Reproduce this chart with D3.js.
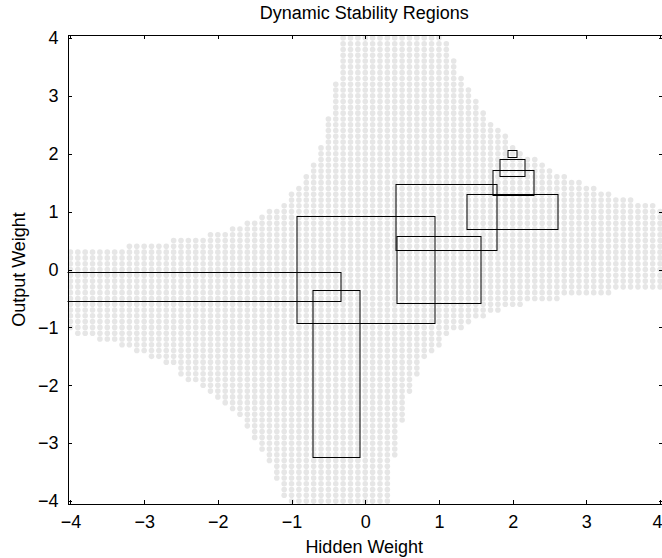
<!DOCTYPE html>
<html>
<head>
<meta charset="utf-8">
<script src="https://cdn.jsdelivr.net/npm/d3@7"></script>
<style>
  body { margin: 0; background: #fff; }
  svg { display: block; }
  text { font-family: "Liberation Sans", Arial, Helvetica, sans-serif; fill: #000; }
</style>
</head>
<body>
<div id="chart"></div>
<script>
// tick labels
const xTicks = [-4, -3, -2, -1, 0, 1, 2, 3, 4];
const yTicks = [-4, -3, -2, -1, 0, 1, 2, 3, 4];

// stable region: one column every 0.1 in hidden weight, from -4 to 4
// top / bottom output weight of the grey dots in each column
const regionTop = [
  0.3, 0.3, 0.3, 0.3, 0.3, 0.3, 0.3, 0.3,
  0.4, 0.4, 0.4, 0.4, 0.4, 0.4,
  0.5, 0.5, 0.5, 0.5, 0.5,
  0.6, 0.6, 0.6,
  0.7, 0.7, 0.8, 0.8, 0.9, 1.0, 1.0, 1.1,
  1.3, 1.4, 1.6, 1.8, 2.1, 2.6, 3.2,
  4, 4, 4, 4, 4, 4, 4, 4, 4, 4, 4, 4, 4, 4,
  3.9, 3.6, 3.3, 3.1, 2.9, 2.7, 2.5, 2.4, 2.3, 2.1, 2.0,
  1.9, 1.9, 1.8, 1.7, 1.6, 1.6, 1.5, 1.5, 1.4, 1.4, 1.3, 1.3,
  1.2, 1.2, 1.2, 1.1, 1.1, 1.1, 1.0
];
const regionBottom = [
  -1.0, -1.1, -1.1, -1.1, -1.2, -1.2, -1.2, -1.3, -1.3, -1.4, -1.4,
  -1.5, -1.5, -1.6, -1.6, -1.8, -1.9, -1.9, -2.0, -2.1, -2.2, -2.3,
  -2.4, -2.5, -2.7, -2.9, -3.1, -3.3, -3.6, -3.9,
  -4, -4, -4, -4, -4, -4, -4, -4, -4, -4, -4, -4, -4, -4,
  -3.2, -2.6, -2.1, -1.8, -1.5, -1.4, -1.3, -1.1,
  -1.0, -1.0, -0.9, -0.8, -0.8, -0.7, -0.7, -0.6, -0.6, -0.6,
  -0.5, -0.5, -0.5, -0.5, -0.5,
  -0.4, -0.4, -0.4, -0.4, -0.4, -0.4, -0.4,
  -0.3, -0.3, -0.3, -0.3, -0.3, -0.3, -0.3
];

// boxes (hidden weight range x output weight range)
const boxXLo = [-4.5, -0.93, -0.72, 0.41, 0.43, 1.38, 1.72, 1.82, 1.93];
const boxXHi = [-0.33, 0.94, -0.08, 1.78, 1.57, 2.61, 2.28, 2.16, 2.05];
const boxYLo = [-0.55, -0.92, -3.24, 0.34, -0.57, 0.70, 1.29, 1.61, 1.94];
const boxYHi = [-0.05, 0.93, -0.36, 1.47, 0.57, 1.30, 1.71, 1.90, 2.06];

const W = 662, H = 558;
const margin = { top: 35, right: -1, bottom: 54, left: 67.5 };
const width = W - margin.left - margin.right;
const height = H - margin.top - margin.bottom;

const svg = d3.select("#chart").append("svg")
  .attr("width", W)
  .attr("height", H);

const g = svg.append("g")
  .attr("transform", "translate(" + margin.left + "," + margin.top + ")");

const x = d3.scaleLinear().domain([-4.04, 4.04]).range([0, width]);
const y = d3.scaleLinear().domain([-4.05, 4.05]).range([height, 0]);

g.append("clipPath").attr("id", "plotclip")
  .append("rect").attr("width", width).attr("height", height);

// grid points inside the region
const dots = [];
regionTop.forEach((top, k) => {
  const hx = -4 + k / 10;
  const lo = Math.round(regionBottom[k] * 10);
  const hi = Math.round(top * 10);
  for (let j = lo; j <= hi; j++) dots.push({ hx: hx, ow: j / 10 });
});

g.append("g")
  .attr("clip-path", "url(#plotclip)")
  .selectAll("circle")
  .data(dots)
  .enter()
  .append("circle")
  .attr("cx", d => x(d.hx))
  .attr("cy", d => y(d.ow))
  .attr("r", 2.8)
  .attr("fill", "#e6e6e6");

const boxes = boxXLo.map((v, i) => ({ x0: v, x1: boxXHi[i], y0: boxYLo[i], y1: boxYHi[i] }));

g.append("g")
  .attr("clip-path", "url(#plotclip)")
  .selectAll("rect")
  .data(boxes)
  .enter()
  .append("rect")
  .attr("x", d => Math.round(x(d.x0)) + 0.5)
  .attr("y", d => Math.round(y(d.y1)) + 0.5)
  .attr("width", d => Math.round(x(d.x1)) - Math.round(x(d.x0)))
  .attr("height", d => Math.round(y(d.y0)) - Math.round(y(d.y1)))
  .attr("fill", "none")
  .attr("stroke", "#000")
  .attr("stroke-width", 1);

// axes, ticks pointing inward on all four sides
const fmt = d3.format("d");
const bottomAxis = g.append("g")
  .attr("transform", "translate(0," + height + ")")
  .call(d3.axisBottom(x).tickValues(xTicks).tickFormat(fmt).tickSizeInner(-4).tickSizeOuter(0).tickPadding(11));
const topAxis = g.append("g")
  .call(d3.axisTop(x).tickValues(xTicks).tickFormat("").tickSizeInner(-4).tickSizeOuter(0));
const leftAxis = g.append("g")
  .call(d3.axisLeft(y).tickValues(yTicks).tickFormat(fmt).tickSizeInner(-4).tickSizeOuter(0).tickPadding(9));
const rightAxis = g.append("g")
  .attr("transform", "translate(" + width + ",0)")
  .call(d3.axisRight(y).tickValues(yTicks).tickFormat("").tickSizeInner(-4).tickSizeOuter(0));

[bottomAxis, topAxis, leftAxis, rightAxis].forEach(a => {
  a.selectAll("path").attr("stroke", "#000").attr("shape-rendering", "crispEdges");
  a.selectAll("line").attr("stroke", "#000").attr("shape-rendering", "crispEdges");
  a.selectAll("text").style("font-size", "18px").attr("fill", "#000");
});
// last x label sits at the window edge, keep it inside
bottomAxis.selectAll(".tick:last-of-type text").attr("dx", "-3");

// title and axis labels
svg.append("text")
  .attr("x", margin.left + width / 2 - 1)
  .attr("y", 19)
  .style("text-anchor", "middle")
  .style("font-size", "18px")
  .text("Dynamic Stability Regions");

svg.append("text")
  .attr("x", margin.left + width / 2 - 1)
  .attr("y", 553)
  .style("text-anchor", "middle")
  .style("font-size", "18px")
  .text("Hidden Weight");

svg.append("text")
  .attr("transform", "translate(25," + (margin.top + height / 2) + ") rotate(-90)")
  .style("text-anchor", "middle")
  .style("font-size", "18px")
  .text("Output Weight");
</script>
</body>
</html>
